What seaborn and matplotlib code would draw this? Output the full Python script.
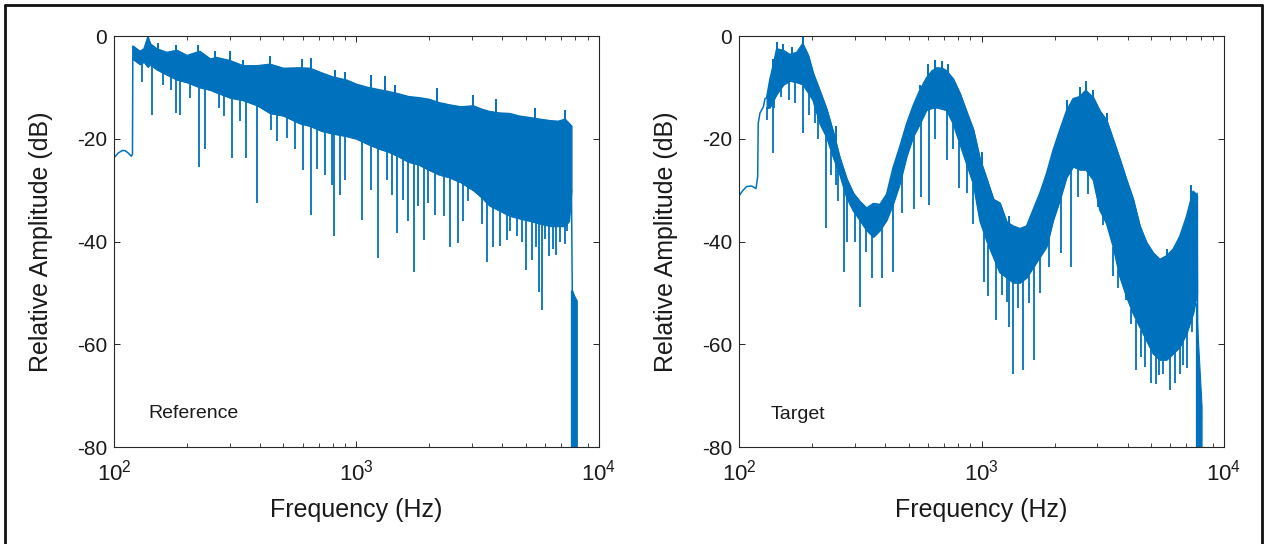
import numpy as np
import matplotlib
matplotlib.use("Agg")
import matplotlib.pyplot as plt
import seaborn as sns
from matplotlib.lines import Line2D
from matplotlib.ticker import LogLocator, NullFormatter

# ---------------- data ----------------
# Reference panel
ref_smooth_f = [100, 104, 108, 111, 114, 118, 119.2, 119.6]
ref_smooth_db = [-23.7, -22.8, -22.3, -22.3, -22.7, -23.4, -23.0, -2.0]

ref_band_f = [120, 128, 133, 138, 141, 150, 165, 182, 200, 226,
              250, 265, 301, 341, 390, 440, 500, 584, 643, 720,
              800, 912, 1000, 1110, 1250, 1350, 1500, 1640, 1800, 1980,
              2200, 2410, 2700, 3030, 3300, 3540, 3900, 4290, 4700, 5210,
              5700, 6320, 6800, 7240, 7520, 7700]
ref_band_hi = [-2.0, -3.0, -2.5, -0.2, -1.5, -2.5, -3.2, -2.8, -3.8, -3.0,
               -4.5, -4.2, -4.8, -5.8, -5.8, -5.5, -6.3, -6.2, -6.3, -7.2,
               -8.0, -8.6, -9.4, -10.0, -10.5, -10.8, -11.3, -11.8, -12.0, -12.3,
               -13.0, -13.4, -13.8, -13.6, -14.3, -14.7, -15.0, -15.1, -15.6, -15.9,
               -16.2, -16.5, -16.6, -16.2, -17.0, -17.5]
ref_band_lo = [-4.5, -5.5, -5.0, -6.0, -5.5, -6.5, -7.5, -8.5, -9.0, -10.0,
               -10.5, -11.0, -12.0, -12.5, -13.5, -15.0, -15.5, -17.0, -17.5, -18.5,
               -19.0, -19.5, -20.0, -21.0, -22.0, -22.5, -23.5, -24.5, -25.0, -26.0,
               -27.0, -27.5, -28.5, -30.0, -31.5, -33.0, -34.0, -35.0, -35.5, -36.0,
               -36.5, -37.0, -37.0, -37.0, -36.0, -30.0]
ref_tip_f = [152, 181, 223, 260, 301, 341, 440, 595, 647, 813,
             895, 1145, 1313, 1435, 2150, 3030, 3750, 5430, 7250]
ref_tip_db = [-1.4, -1.7, -1.7, -2.9, -3.0, -4.6, -3.8, -4.5, -4.3, -6.6,
              -7.0, -7.6, -7.8, -9.5, -10.2, -11.5, -12.2, -14.1, -14.4]
ref_dip_f = [131, 144, 160, 172, 180, 187, 205, 224, 238, 270,
             285, 306, 330, 350, 390, 444, 470, 515, 560, 603,
             649, 687, 740, 790, 808, 855, 895, 1055, 1150, 1224,
             1339, 1400, 1467, 1550, 1635, 1730, 1800, 1900, 1975, 2100,
             2300, 2440, 2610, 2750, 2880, 3120, 3300, 3440, 3650, 3900,
             4160, 4300, 4580, 4800, 5020, 5290, 5500, 5650, 5830, 6000,
             6200, 6450, 6670, 6900, 7240, 7400]
ref_dip_db = [-8.9, -15.4, -9.5, -10.5, -15.0, -15.4, -12.0, -25.4, -21.9, -14.0,
              -15.5, -23.8, -16.5, -23.8, -32.5, -18.3, -20.5, -19.9, -22.0, -26.1,
              -34.8, -25.8, -27.0, -29.0, -38.9, -31.0, -28.0, -35.8, -30.0, -43.2,
              -28.1, -31.0, -38.4, -32.0, -36.0, -45.9, -33.0, -39.7, -32.5, -34.8,
              -35.0, -41.0, -40.2, -36.0, -32.2, -30.3, -36.5, -43.9, -41.0, -40.9,
              -39.8, -38.0, -39.0, -40.0, -45.5, -43.6, -41.0, -49.8, -53.3, -39.5,
              -42.9, -41.5, -42.6, -40.0, -40.5, -38.0]
ref_tail_f = [7700, 7760, 8050]
ref_tail_db = [-30.0, -49.5, -51.5]
ref_col_f = [7660, 8100]
ref_col_top = [-49.5, -51.5]

# Target panel
tgt_smooth_f = [100, 104, 107.6, 112.8, 117.5, 119.4, 120, 122, 126, 128, 130]
tgt_smooth_db = [-31.1, -30.0, -29.3, -29.2, -29.7, -27.4, -17.0, -15.0, -13.8, -12.2, -12.0]

tgt_band_f = [130, 134, 138.6, 143, 152, 162, 173, 183, 193, 202,
              216, 230, 245, 260, 278, 296, 315, 336, 358, 381,
              406, 432, 460, 490, 522, 556, 592, 625, 655, 690,
              718, 765, 815, 869, 925, 986, 1054, 1120, 1190, 1270,
              1352, 1440, 1534, 1633, 1740, 1853, 1974, 2103, 2240, 2386,
              2541, 2690, 2890, 3078, 3279, 3493, 3720, 3963, 4222, 4497,
              4790, 5102, 5435, 5790, 6167, 6570, 6998, 7455, 7740]
tgt_band_hi = [-12.0, -8.5, -5.5, -2.5, -2.8, -3.6, -3.2, -1.5, -3.8, -7.2,
               -10.8, -14.3, -18.8, -23.6, -27.8, -30.6, -32.2, -33.5, -32.6, -32.8,
               -30.8, -25.6, -21.6, -17.2, -13.6, -10.6, -8.2, -6.8, -6.2, -6.3,
               -6.8, -8.4, -11.2, -14.8, -18.2, -24.0, -28.0, -31.8, -32.5, -36.2,
               -37.0, -37.5, -37.0, -33.8, -30.6, -26.8, -22.2, -18.3, -14.6, -12.2,
               -11.8, -10.6, -12.0, -14.6, -16.4, -20.2, -24.0, -28.0, -31.8, -37.0,
               -40.2, -42.2, -43.5, -42.8, -41.5, -39.0, -35.2, -30.2, -31.0]
tgt_band_lo = [-14.0, -13.9, -12.5, -11.3, -9.5, -8.7, -9.0, -9.4, -11.0, -12.5,
               -17.1, -19.7, -23.6, -26.8, -31.4, -34.0, -35.8, -37.8, -39.1, -37.8,
               -35.8, -32.6, -28.7, -23.5, -19.6, -17.1, -14.4, -14.0, -13.9, -14.2,
               -14.4, -17.1, -21.0, -24.9, -28.7, -36.0, -40.0, -43.0, -46.0, -47.0,
               -48.0, -48.0, -47.0, -45.0, -43.0, -41.0, -35.8, -31.9, -27.5, -25.4,
               -26.0, -26.0, -28.0, -33.9, -36.5, -41.0, -46.8, -50.7, -54.0, -56.6,
               -59.2, -61.8, -63.0, -63.0, -61.8, -60.5, -57.9, -54.0, -50.0]
tgt_tip_f = [138, 144, 152, 165, 183, 250, 560, 600, 640, 690,
             728, 1000, 1300, 2250, 2550, 2690, 2880, 3300, 5800, 7300]
tgt_tip_db = [-4.5, -1.1, -1.5, -2.2, 0.0, -17.5, -9.5, -5.5, -4.6, -4.8,
              -5.5, -22.5, -35.0, -12.5, -10.0, -8.7, -10.5, -15.0, -41.5, -29.0]
tgt_dip_f = [130, 138.6, 140, 148.5, 160, 170, 184, 195, 205, 212,
             228.5, 240, 250, 257, 271, 278, 301, 314, 333, 355,
             390, 433, 472, 527, 563, 608, 640, 718, 760, 810,
             870, 925, 1025, 1067, 1145, 1210, 1270, 1300, 1345, 1420,
             1488, 1570, 1650, 1750, 1905, 2136, 2345, 2505, 2760, 3010,
             3170, 3493, 3660, 3925, 4150, 4355, 4565, 4710, 4980, 5225,
             5400, 5590, 5960, 6270, 6570, 6800, 7040, 7400]
tgt_dip_db = [-16.4, -22.8, -14.0, -11.8, -12.5, -13.0, -18.9, -15.3, -17.0, -20.0,
              -37.4, -27.0, -29.0, -32.2, -45.9, -40.0, -40.0, -52.7, -42.0, -47.2,
              -47.2, -45.9, -34.5, -33.6, -31.3, -32.9, -20.0, -24.1, -22.0, -29.6,
              -30.5, -36.5, -47.8, -50.7, -55.3, -50.5, -51.7, -56.7, -65.7, -53.0,
              -65.0, -52.0, -63.0, -50.0, -44.9, -42.3, -44.9, -31.3, -30.7, -33.2,
              -36.8, -46.8, -49.1, -51.4, -56.0, -65.0, -62.4, -64.5, -67.6, -67.8,
              -66.0, -65.7, -68.9, -67.6, -65.7, -64.0, -64.7, -57.7]
tgt_tail_f = [7740, 7800, 8000, 8080]
tgt_tail_db = [-30.6, -67.0, -73.0, -74.6]
tgt_col_f = [7660, 8080]
tgt_col_top = [-52.0, -72.0]

panel_titles = ["Reference", "Target"]
y_ticks = [-80, -60, -40, -20, 0]
y_ticklabels = ["-80", "-60", "-40", "-20", "0"]
x_label = "Frequency (Hz)"
y_label = "Relative Amplitude (dB)"

# ---------------- style ----------------
sns.set_style("ticks")
plt.rcParams['font.family'] = ['Liberation Sans', 'DejaVu Sans']
plt.rcParams['mathtext.fontset'] = 'custom'
plt.rcParams['mathtext.rm'] = 'Liberation Sans'
plt.rcParams['mathtext.it'] = 'Liberation Sans:italic'
plt.rcParams['axes.unicode_minus'] = False

BLUE = '#0072BD'
AXC = '#262626'

fig = plt.figure(figsize=(12.65, 5.44), dpi=100)
fig.patch.set_facecolor('white')
ax1 = fig.add_axes([0.0901, 0.1783, 0.3834, 0.7555])
ax2 = fig.add_axes([0.5842, 0.1783, 0.3834, 0.7555])

panels = [
    (ax1, ref_smooth_f, ref_smooth_db, ref_band_f, ref_band_hi, ref_band_lo,
     ref_tip_f, ref_tip_db, ref_dip_f, ref_dip_db, ref_tail_f, ref_tail_db,
     ref_col_f, ref_col_top, panel_titles[0], 0.0706, 0.082),
    (ax2, tgt_smooth_f, tgt_smooth_db, tgt_band_f, tgt_band_hi, tgt_band_lo,
     tgt_tip_f, tgt_tip_db, tgt_dip_f, tgt_dip_db, tgt_tail_f, tgt_tail_db,
     tgt_col_f, tgt_col_top, panel_titles[1], 0.065, 0.080),
]

for (ax, sf, sdb, bf, bhi, blo, pf, pdb, df, ddb, tf, tdb, cf, ctop, title, tx, ty) in panels:
    sns.lineplot(x=sf, y=sdb, ax=ax, color=BLUE, lw=1.1, sort=False, estimator=None)
    ax.fill_between(bf, blo, bhi, color=BLUE, lw=0.9, edgecolor=BLUE)
    sns.lineplot(x=bf, y=bhi, ax=ax, color=BLUE, lw=1.1, sort=False, estimator=None)
    sns.lineplot(x=bf, y=blo, ax=ax, color=BLUE, lw=1.1, sort=False, estimator=None)
    ax.vlines(pf, np.interp(pf, bf, bhi), pdb, color=BLUE, lw=1.4)
    ax.vlines(df, ddb, np.interp(df, bf, blo), color=BLUE, lw=1.3)
    sns.lineplot(x=tf, y=tdb, ax=ax, color=BLUE, lw=1.1, sort=False, estimator=None)
    ax.fill_between(cf, [-90, -90], ctop, color=BLUE, lw=0.8, edgecolor=BLUE)

    ax.set_xscale('log')
    ax.set_xlim(100, 10000)
    ax.set_ylim(-80, 0)
    ax.set_yticks(y_ticks)
    ax.set_yticklabels(y_ticklabels)
    ax.xaxis.set_major_locator(LogLocator(base=10, numticks=5))
    ax.xaxis.set_minor_locator(LogLocator(base=10, subs=np.arange(2, 10), numticks=20))
    ax.xaxis.set_minor_formatter(NullFormatter())
    ax.tick_params(axis='both', which='major', direction='in', length=4, width=0.7,
                   color=AXC, top=True, right=True)
    ax.tick_params(axis='x', which='minor', direction='in', length=2.6, width=0.6,
                   color=AXC, top=True, bottom=True)
    ax.tick_params(axis='y', which='major', labelsize=15, pad=5, labelcolor='#1a1a1a')
    ax.tick_params(axis='x', which='major', labelsize=16, pad=9, labelcolor='#1a1a1a')
    for sp in ax.spines.values():
        sp.set_color(AXC)
        sp.set_linewidth(0.8)
    ax.set_xlabel(x_label, fontsize=18, color='#1a1a1a')
    ax.set_ylabel(y_label, fontsize=18, color='#1a1a1a')
    ax.xaxis.set_label_coords(0.5, -0.153)
    ax.xaxis.label.set_verticalalignment('center')
    ax.yaxis.set_label_coords(-0.15, 0.5)
    ax.yaxis.label.set_verticalalignment('center')
    ax.text(tx, ty, title, transform=ax.transAxes, fontsize=14, ha='left', va='center',
            color='#1a1a1a')

# outer frame (left, top, right)
W, H = 1265.0, 544.0
fig.add_artist(Line2D([5 / W, 5 / W], [0, 1 - 5 / H], transform=fig.transFigure, color='#111111', lw=2.0))
fig.add_artist(Line2D([5 / W, 1262 / W], [1 - 5 / H, 1 - 5 / H], transform=fig.transFigure, color='#111111', lw=2.0))
fig.add_artist(Line2D([1262 / W, 1262 / W], [0, 1 - 5 / H], transform=fig.transFigure, color='#111111', lw=2.0))

fig.savefig('out.png', dpi=100, facecolor='white')
